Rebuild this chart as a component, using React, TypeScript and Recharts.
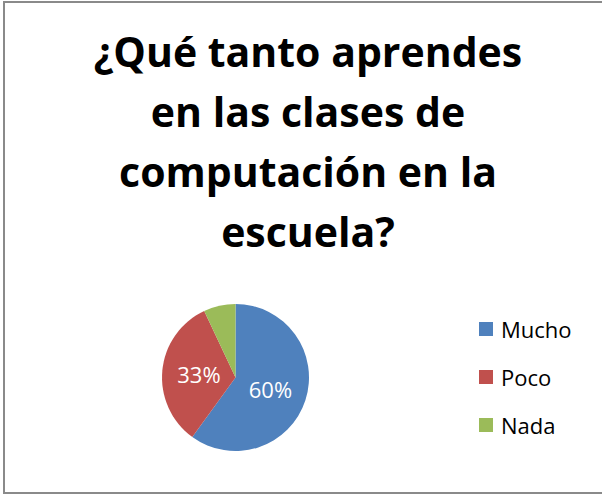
import { PieChart, Pie, Cell, Legend } from 'recharts';

const categories = ['Mucho', 'Poco', 'Nada'];
const values = [60, 33, 7];
const colors = ['#4F81BD', '#C0504D', '#9BBB59'];
const titleLines = ['¿Qué tanto aprendes', 'en las clases de', 'computación en la', 'escuela?'];

const data = categories.map((name, i) => ({ name, value: values[i] }));

const FONT = '"Open Sans", "Noto Sans", sans-serif';
const RAD = Math.PI / 180;

const renderLabel = ({ cx, cy, midAngle, outerRadius, percent }: any) => {
  if (percent < 0.1) return null;
  const r = outerRadius * 0.5;
  const x = cx + r * Math.cos(-midAngle * RAD);
  const y = cy + r * Math.sin(-midAngle * RAD);
  return (
    <text x={x} y={y} fill="#fff" fontSize={22} fontFamily={FONT} textAnchor="middle" dominantBaseline="central">
      {`${Math.round(percent * 100)}%`}
    </text>
  );
};

const LegendContent = () => (
  <div style={{ fontFamily: FONT, fontSize: 22, color: '#000' }}>
    {categories.map((c, i) => (
      <div key={c} style={{ display: 'flex', alignItems: 'center', height: 48 }}>
        <span style={{ width: 14, height: 14, background: colors[i], marginRight: 8 }} />
        <span>{c}</span>
      </div>
    ))}
  </div>
);

export default function App() {
  return (
    <div style={{ position: 'absolute', left: 0, top: 0, width: 602, height: 495, overflow: 'hidden', background: '#fff' }}>
      <div
        style={{
          position: 'absolute', left: 3, top: 1, width: 640, height: 493,
          border: '2px solid #8a8a8a', boxSizing: 'border-box',
        }}
      />
      <div
        style={{
          position: 'absolute', left: 0, top: 21, width: 616, textAlign: 'center',
          fontFamily: FONT, fontWeight: 700, fontSize: 41, lineHeight: '60px', color: '#000',
        }}
      >
        {titleLines.map((l) => (
          <div key={l}>{l}</div>
        ))}
      </div>
      <div style={{ position: 'absolute', left: 0, top: 0 }}>
        <PieChart width={602} height={495} margin={{ top: 0, right: 0, bottom: 0, left: 0 }}>
          <Pie
            data={data}
            dataKey="value"
            nameKey="name"
            cx={235.5}
            cy={377.5}
            outerRadius={73.5}
            startAngle={90}
            endAngle={-270}
            stroke="none"
            label={renderLabel}
            labelLine={false}
            isAnimationActive={false}
          >
            {data.map((d, i) => (
              <Cell key={d.name} fill={colors[i]} />
            ))}
          </Pie>
          <Legend
            layout="vertical"
            align="right"
            verticalAlign="top"
            content={<LegendContent />}
            wrapperStyle={{ left: 479, top: 305, width: 120 }}
          />
        </PieChart>
      </div>
    </div>
  );
}
